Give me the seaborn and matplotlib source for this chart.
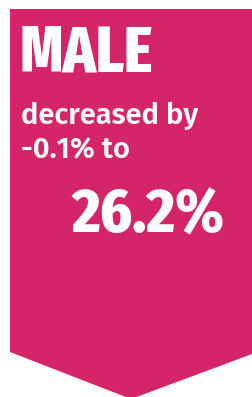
import matplotlib
matplotlib.use("Agg")
import matplotlib.pyplot as plt
import seaborn as sns
from matplotlib.patches import Polygon

# ===============================
# data
# ===============================
category = "MALE"
change_pct = -0.1
value_pct = 26.2
direction = "decreased" if change_pct < 0 else "increased"

banner_color = "#D32568"

sns.set_theme(style="white")
plt.rcParams["font.family"] = ["Fira Sans", "DejaVu Sans"]

head_font = ["Fira Sans Extra Condensed", "DejaVu Sans"]
num_font = ["Fira Sans Condensed", "DejaVu Sans"]
body_font = ["Fira Sans", "DejaVu Sans"]

fig = plt.figure(figsize=(2.52, 3.97), dpi=100)
ax = fig.add_axes([0, 0, 1, 1])
ax.set_xlim(0, 252)
ax.set_ylim(397, 0)
ax.axis("off")

# banner shape (pixel coords)
banner = Polygon([(10, 9), (252, 9), (252, 354), (131, 399), (10, 352)],
                 closed=True, facecolor=banner_color, edgecolor="none")
ax.add_patch(banner)

ax.text(20, 72, category, color="white", fontsize=47, fontweight=800,
        family=head_font, va="baseline", ha="left")

ax.text(21, 124, f"{direction} by", color="white", fontsize=21, fontweight=600,
        family=body_font, va="baseline", ha="left")
ax.text(21, 158, f"{change_pct:.1f}% to", color="white", fontsize=21, fontweight=600,
        family=body_font, va="baseline", ha="left")

ax.text(72, 233, f"{value_pct:.1f}%", color="white", fontsize=44, fontweight=800,
        family=num_font, va="baseline", ha="left")

fig.savefig("out.png", dpi=100)
